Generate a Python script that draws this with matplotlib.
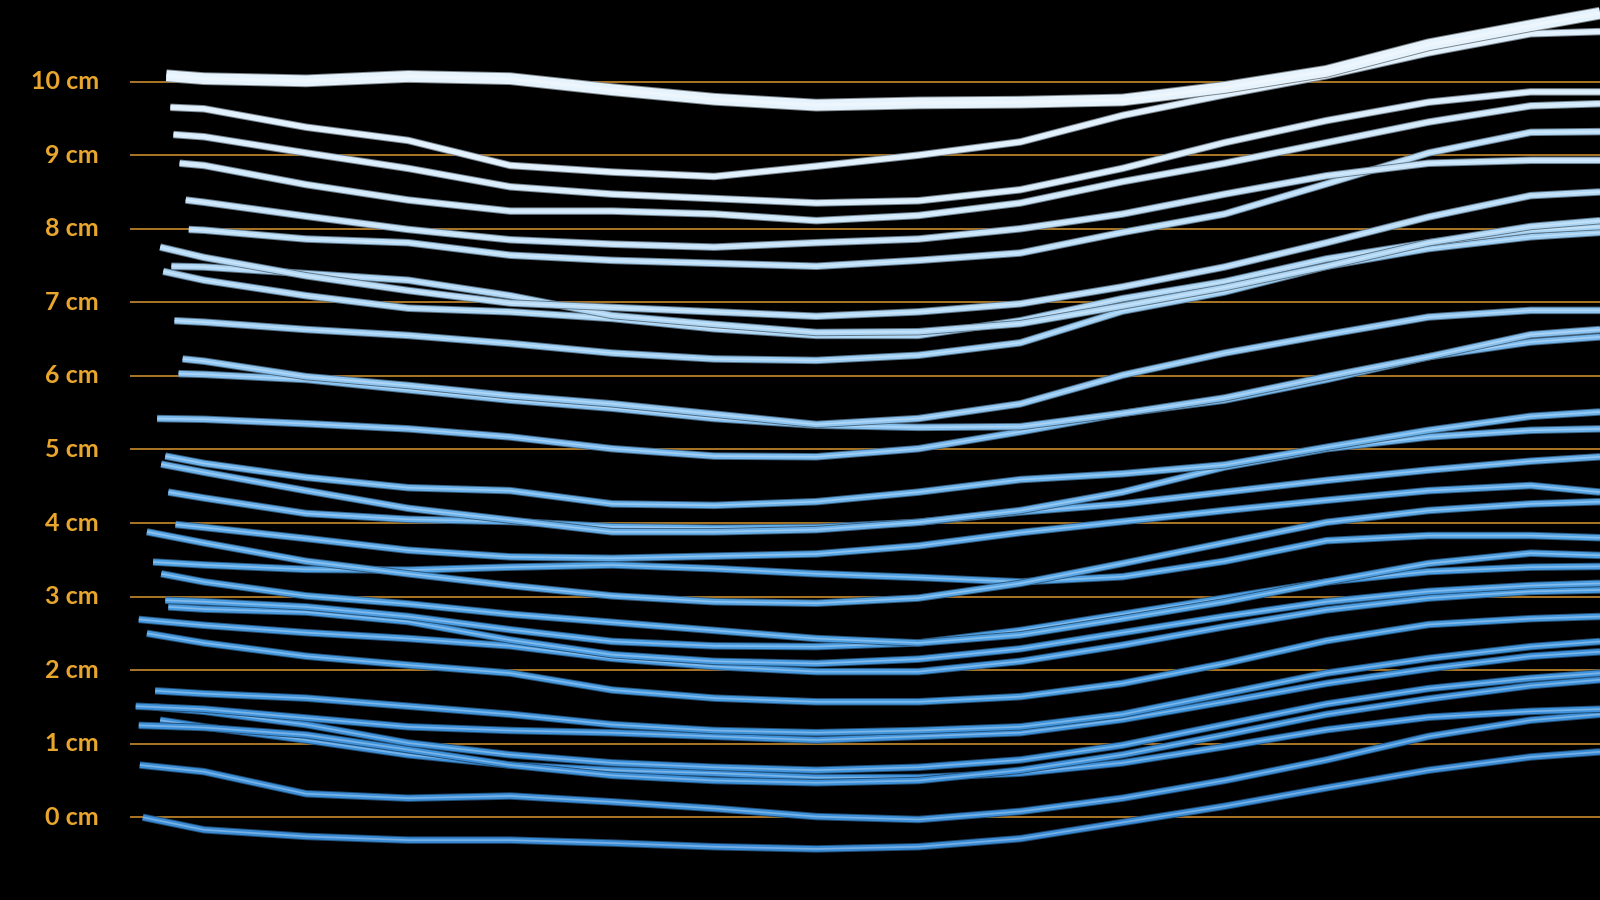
import matplotlib
matplotlib.use("Agg")
import matplotlib.pyplot as plt
import matplotlib.patheffects as pe
from matplotlib.colors import LinearSegmentedColormap, to_rgb
import numpy as np

# ---------------- data (depth in cm) ----------------
# horizontal positions shared by every line after its own start point
x_grid = [2.0, 3.0, 4.0, 5.0, 6.0, 7.0, 8.0, 9.0, 10.0, 11.0, 12.0, 13.0, 14.0, 15.0, 15.68]

start_x = [1.63, 1.67, 1.70, 1.76, 1.82, 1.85, 1.57, 1.68, 1.60, 1.71,
           1.79, 1.75, 1.54, 1.62, 1.58, 1.65, 1.72, 1.44, 1.50, 1.58,
           1.62, 1.65, 1.36, 1.44, 1.52, 1.33, 1.50, 1.36, 1.57, 1.37, 1.40]

line_01 = [10.08, 10.04, 10.01, 10.07, 10.04, 9.89, 9.76, 9.68, 9.71, 9.72, 9.75, 9.92, 10.14, 10.50, 10.76, 10.93]
line_02 = [9.65, 9.63, 9.38, 9.20, 8.86, 8.77, 8.71, 8.85, 9.00, 9.18, 9.54, 9.82, 10.08, 10.39, 10.65, 10.68]
line_03 = [9.28, 9.25, 9.03, 8.82, 8.57, 8.47, 8.41, 8.35, 8.38, 8.53, 8.82, 9.17, 9.47, 9.72, 9.86, 9.86]
line_04 = [8.89, 8.86, 8.60, 8.39, 8.24, 8.24, 8.20, 8.11, 8.18, 8.35, 8.64, 8.89, 9.17, 9.45, 9.67, 9.70]
line_05 = [8.39, 8.36, 8.17, 7.99, 7.85, 7.79, 7.75, 7.81, 7.86, 8.00, 8.20, 8.47, 8.72, 8.89, 8.93, 8.93]
line_06 = [7.99, 7.98, 7.86, 7.81, 7.64, 7.57, 7.53, 7.49, 7.57, 7.67, 7.95, 8.20, 8.61, 9.03, 9.31, 9.32]
line_07 = [7.75, 7.61, 7.36, 7.16, 6.99, 6.93, 6.87, 6.81, 6.87, 6.98, 7.21, 7.48, 7.81, 8.16, 8.45, 8.50]
line_08 = [7.49, 7.48, 7.39, 7.30, 7.09, 6.82, 6.70, 6.59, 6.60, 6.71, 6.95, 7.20, 7.49, 7.81, 8.03, 8.11]
line_09 = [7.42, 7.30, 7.09, 6.92, 6.87, 6.78, 6.64, 6.55, 6.55, 6.75, 7.05, 7.28, 7.59, 7.81, 7.98, 8.03]
line_10 = [6.75, 6.73, 6.63, 6.55, 6.44, 6.31, 6.23, 6.21, 6.28, 6.45, 6.88, 7.14, 7.49, 7.73, 7.89, 7.95]
line_11 = [6.23, 6.20, 5.99, 5.87, 5.73, 5.62, 5.48, 5.34, 5.42, 5.62, 6.01, 6.31, 6.56, 6.80, 6.89, 6.89]
line_12 = [6.03, 6.02, 5.95, 5.81, 5.67, 5.56, 5.42, 5.33, 5.30, 5.31, 5.49, 5.70, 5.99, 6.26, 6.56, 6.63]
line_13 = [5.42, 5.41, 5.35, 5.28, 5.17, 5.01, 4.91, 4.90, 5.01, 5.24, 5.49, 5.67, 5.95, 6.26, 6.46, 6.53]
line_14 = [4.91, 4.81, 4.62, 4.48, 4.44, 4.26, 4.24, 4.29, 4.42, 4.59, 4.67, 4.79, 5.03, 5.26, 5.45, 5.51]
line_15 = [4.80, 4.69, 4.44, 4.20, 4.04, 3.88, 3.88, 3.91, 4.01, 4.17, 4.42, 4.76, 5.01, 5.17, 5.26, 5.28]
line_16 = [4.42, 4.34, 4.13, 4.05, 4.02, 3.95, 3.93, 3.94, 4.01, 4.15, 4.26, 4.42, 4.58, 4.72, 4.84, 4.90]
line_17 = [3.98, 3.94, 3.79, 3.63, 3.54, 3.52, 3.55, 3.58, 3.69, 3.87, 4.02, 4.17, 4.31, 4.44, 4.51, 4.42]
line_18 = [3.88, 3.73, 3.48, 3.31, 3.15, 3.01, 2.93, 2.91, 2.98, 3.18, 3.45, 3.73, 4.01, 4.17, 4.26, 4.29]
line_19 = [3.47, 3.43, 3.37, 3.36, 3.40, 3.43, 3.38, 3.31, 3.26, 3.20, 3.27, 3.48, 3.76, 3.83, 3.83, 3.80]
line_20 = [3.31, 3.20, 3.01, 2.90, 2.76, 2.65, 2.54, 2.43, 2.37, 2.48, 2.70, 2.93, 3.20, 3.45, 3.59, 3.56]
line_21 = [2.95, 2.93, 2.86, 2.73, 2.55, 2.39, 2.33, 2.32, 2.37, 2.54, 2.76, 2.98, 3.20, 3.34, 3.40, 3.41]
line_22 = [2.86, 2.83, 2.79, 2.66, 2.41, 2.21, 2.12, 2.09, 2.15, 2.29, 2.51, 2.73, 2.93, 3.07, 3.15, 3.18]
line_23 = [2.69, 2.61, 2.51, 2.43, 2.33, 2.16, 2.05, 1.98, 1.98, 2.12, 2.34, 2.59, 2.82, 2.98, 3.07, 3.09]
line_24 = [2.50, 2.37, 2.19, 2.07, 1.96, 1.73, 1.62, 1.57, 1.57, 1.64, 1.82, 2.09, 2.40, 2.62, 2.70, 2.73]
line_25 = [1.72, 1.68, 1.62, 1.51, 1.40, 1.26, 1.18, 1.15, 1.18, 1.23, 1.40, 1.68, 1.96, 2.16, 2.32, 2.39]
line_26 = [1.51, 1.47, 1.35, 1.23, 1.18, 1.15, 1.10, 1.05, 1.10, 1.15, 1.33, 1.57, 1.82, 2.02, 2.19, 2.25]
line_27 = [1.50, 1.44, 1.26, 1.01, 0.85, 0.74, 0.68, 0.64, 0.68, 0.78, 0.98, 1.26, 1.54, 1.75, 1.89, 1.96]
line_28 = [1.25, 1.22, 1.12, 0.92, 0.71, 0.57, 0.50, 0.47, 0.50, 0.64, 0.85, 1.12, 1.40, 1.61, 1.79, 1.87]
line_29 = [1.32, 1.23, 1.05, 0.85, 0.71, 0.64, 0.60, 0.54, 0.54, 0.60, 0.74, 0.96, 1.19, 1.36, 1.44, 1.47]
line_30 = [0.71, 0.62, 0.32, 0.26, 0.29, 0.21, 0.12, 0.01, -0.03, 0.08, 0.26, 0.50, 0.78, 1.10, 1.32, 1.40]
line_31 = [0.00, -0.17, -0.26, -0.31, -0.31, -0.35, -0.40, -0.43, -0.40, -0.29, -0.07, 0.15, 0.40, 0.64, 0.82, 0.89]

series = [line_01, line_02, line_03, line_04, line_05, line_06, line_07, line_08,
          line_09, line_10, line_11, line_12, line_13, line_14, line_15, line_16,
          line_17, line_18, line_19, line_20, line_21, line_22, line_23, line_24,
          line_25, line_26, line_27, line_28, line_29, line_30, line_31]

tick_values = list(range(0, 11))
tick_labels = [f"{v} cm" for v in tick_values]

# ---------------- figure ----------------
fig = plt.figure(figsize=(16, 9), dpi=100, facecolor="black")
ax = fig.add_axes([0, 0, 1, 1])
ax.set_facecolor("black")
ax.set_xlim(0, 15.68)
ax.set_ylim(-1.124, 11.109)
ax.axis("off")

grid_col = "#C88A2C"
label_col = "#E9A62C"
ax.hlines(tick_values, 1.27, 15.68, color=grid_col, lw=1.2, zorder=1)
for v, lab in zip(tick_values, tick_labels):
    ax.text(0.97, v, lab, ha="right", va="center", color=label_col,
            fontsize=18, fontweight="bold", family=["Lato", "DejaVu Sans"])

cmap = LinearSegmentedColormap.from_list(
    "depth", ["#3A8BD6", "#3F93DC", "#4C9FE3", "#6DB3EC", "#9CCDF3", "#C4E2F8", "#EAF5FE"])


def shade(c, f):
    r, g, b = to_rgb(c)
    return (r * f, g * f, b * f)


def lighten(c, f):
    r, g, b = to_rgb(c)
    return (r + (1 - r) * f, g + (1 - g) * f, b + (1 - b) * f)


n = len(series)
for i in range(n - 1, -1, -1):
    vals = series[i]
    xs = [start_x[i]] + x_grid
    t = np.clip((vals[0] + 0.3) / 10.6, 0, 1)
    col = cmap(t)
    lw = 7.8 if i == 0 else 4.0
    ax.plot(xs, vals, color=col, lw=lw, solid_capstyle="butt",
            solid_joinstyle="round", zorder=3 + (n - i) * 0.01,
            path_effects=[pe.Stroke(linewidth=lw + 1.4, foreground=shade(col, 0.55)),
                          pe.Normal()])
    ax.plot(xs, vals, color=lighten(col, 0.45), lw=lw * 0.3, alpha=0.7,
            solid_capstyle="butt", solid_joinstyle="round",
            zorder=3 + (n - i) * 0.01 + 0.005)

fig.savefig("out.png", dpi=100, facecolor="black")
